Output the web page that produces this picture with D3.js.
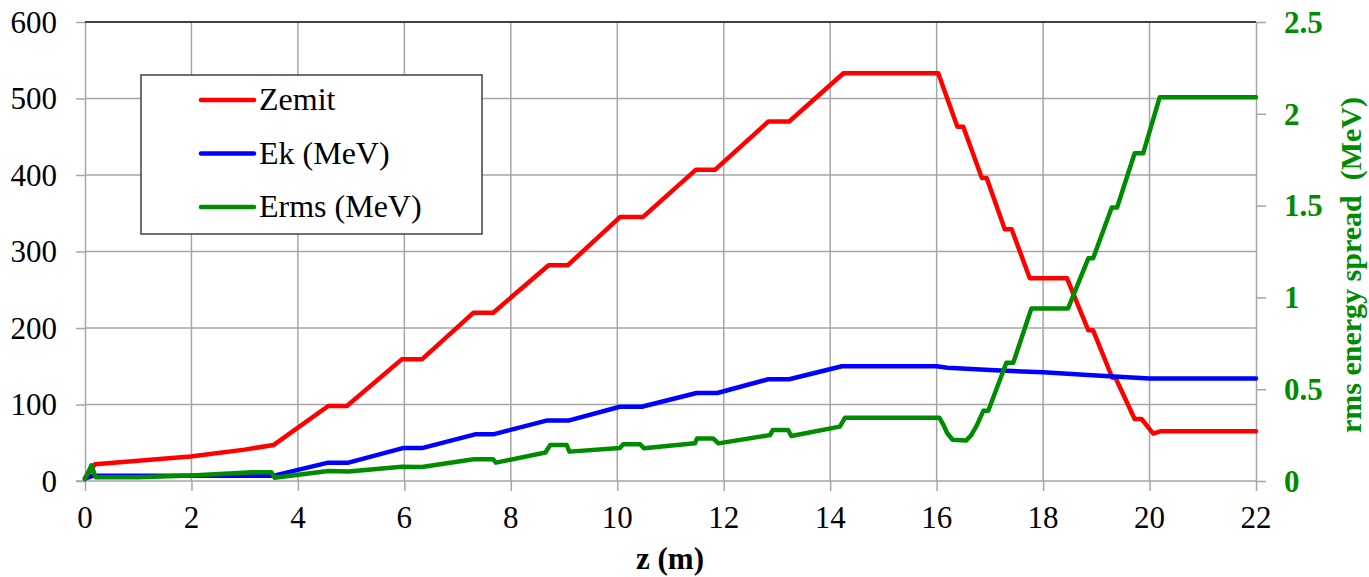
<!DOCTYPE html>
<html><head><meta charset="utf-8">
<script src="https://cdn.jsdelivr.net/npm/d3@7"></script>
<style>
html,body{margin:0;padding:0;background:#fff;}
</style></head>
<body>
<svg id="chart" width="1369" height="577"></svg>
<script>
// ---- data ----
const xTicks = [0,2,4,6,8,10,12,14,16,18,20,22];
const leftTicks = [0,100,200,300,400,500,600];
const rightTicks = [0,0.5,1,1.5,2,2.5];
const rightTickLabels = ["0","0.5","1","1.5","2","2.5"];
const seriesNames = ["Zemit","Ek (MeV)","Erms (MeV)"];
const seriesColors = ["#ff0000","#0000ff","#008c00"];
const xTitle = "z (m)";
const rightTitle = "rms energy spread  (MeV)";

const zemit = [[0,4],[0.19,22],[1.98,32],[3.0,41],[3.54,47],[4.57,98],[4.92,98],[5.95,159],[6.33,159],[7.30,220],[7.67,220],[8.71,282],[9.07,282],[10.05,345],[10.48,345],[11.48,407],[11.84,407],[12.84,470],[13.23,470],[14.25,533],[16.03,533],[16.39,463],[16.50,463],[16.85,396],[16.94,396],[17.28,329],[17.41,329],[17.75,265],[18.45,265],[18.85,197],[18.94,197],[19.30,135],[19.36,135],[19.72,81],[19.85,81],[20.07,62],[20.2,65],[22,65]];
const ek = [[0,3],[0.15,7],[3.55,7],[4.57,24],[4.95,24],[5.97,43],[6.33,43],[7.33,61],[7.67,61],[8.67,79],[9.08,79],[10.05,97],[10.46,97],[11.49,115],[11.88,115],[12.84,133],[13.23,133],[14.22,150],[16.0,150],[16.2,148],[17,145],[18,142],[19,138],[20,134],[22,134]];
const erms = [[0,0.01],[0.12,0.085],[0.2,0.02],[1.0,0.02],[2.0,0.03],[3.15,0.048],[3.5,0.048],[3.56,0.018],[4.57,0.055],[4.95,0.052],[5.95,0.078],[6.33,0.076],[7.3,0.118],[7.67,0.118],[7.72,0.1],[8.65,0.155],[8.74,0.196],[9.05,0.196],[9.1,0.16],[10.05,0.18],[10.11,0.2],[10.43,0.2],[10.5,0.178],[11.46,0.205],[11.5,0.232],[11.8,0.232],[11.9,0.205],[12.87,0.25],[12.92,0.278],[13.21,0.278],[13.27,0.245],[14.18,0.296],[14.28,0.345],[16.05,0.345],[16.12,0.31],[16.2,0.26],[16.3,0.225],[16.55,0.22],[16.65,0.25],[16.75,0.3],[16.88,0.383],[16.97,0.383],[17.31,0.644],[17.44,0.644],[17.78,0.94],[18.47,0.94],[18.85,1.213],[18.94,1.213],[19.29,1.49],[19.39,1.49],[19.72,1.785],[19.88,1.785],[20.19,2.09],[22,2.09]];

// ---- layout ----
const L = 85, R = 1256, T = 22, B = 481;
const FS = 31;
const FONT = "\"Liberation Serif\"";
const svg = d3.select("#chart");
const x = d3.scaleLinear().domain([0,22]).range([L,R]);
const yL = d3.scaleLinear().domain([0,600]).range([B,T]);
const yR = d3.scaleLinear().domain([0,2.5]).range([B,T]);
const gridColor = "#a6a6a6";
const green = seriesColors[2];

function txt(parent, s, size, bold, fill){
  return parent.append("text").style("font-family",FONT).style("font-size",size+"px")
    .style("font-weight",bold?"bold":"normal").attr("fill",fill).text(s);
}

// grid
svg.append("g").selectAll("line").data(leftTicks.filter(d=>d>0 && d<600)).join("line")
  .attr("x1",L).attr("x2",R).attr("y1",d=>yL(d)).attr("y2",d=>yL(d))
  .attr("stroke",gridColor).attr("stroke-width",1.5);
svg.append("g").selectAll("line").data(xTicks.filter(d=>d>0 && d<22)).join("line")
  .attr("x1",d=>x(d)).attr("x2",d=>x(d)).attr("y1",T).attr("y2",B)
  .attr("stroke",gridColor).attr("stroke-width",1.5);

// axes (lines only; labels drawn below)
function styleAxis(g){
  g.selectAll("path.domain").attr("stroke",gridColor).attr("stroke-width",1.5);
  g.selectAll(".tick line").attr("stroke",gridColor).attr("stroke-width",1.5);
  g.selectAll(".tick text").remove();
}
const gl = svg.append("g").attr("transform",`translate(${L},0)`)
  .call(d3.axisLeft(yL).tickValues(leftTicks).tickSize(9).tickSizeOuter(0));
styleAxis(gl);
const gb = svg.append("g").attr("transform",`translate(0,${B})`)
  .call(d3.axisBottom(x).tickValues(xTicks).tickSize(10).tickSizeOuter(0));
styleAxis(gb);
gb.select("path.domain").attr("d",`M${L-9},0H${R}`);
const gr = svg.append("g").attr("transform",`translate(${R},0)`)
  .call(d3.axisRight(yR).tickValues(rightTicks).tickSize(10).tickSizeOuter(0));
styleAxis(gr);

// tick labels
const tl = svg.append("g");
leftTicks.forEach(v=>{
  txt(tl, String(v), FS, false, "#000").attr("x",L-28).attr("y",yL(v)).attr("dy","0.35em").attr("text-anchor","end");
});
xTicks.forEach(v=>{
  txt(tl, String(v), FS, false, "#000").attr("x",x(v)).attr("y",B+47).attr("text-anchor","middle");
});
rightTicks.forEach((v,i)=>{
  txt(tl, rightTickLabels[i], FS, true, green).attr("x",R+28).attr("y",yR(v)).attr("dy","0.35em").attr("text-anchor","start");
});

// top border
svg.append("line").attr("x1",L).attr("x2",R).attr("y1",T).attr("y2",T)
  .attr("stroke","#404040").attr("stroke-width",2);

// lines
const lineL = d3.line().x(d=>x(d[0])).y(d=>yL(d[1]));
const lineR = d3.line().x(d=>x(d[0])).y(d=>yR(d[1]));
[[zemit,lineL,0],[ek,lineL,1],[erms,lineR,2]].forEach(([data,gen,i])=>{
  svg.append("path").datum(data).attr("d",gen).attr("fill","none")
    .attr("stroke",seriesColors[i]).attr("stroke-width",4.5)
    .attr("stroke-linejoin","round").attr("stroke-linecap","round");
});

// legend
const lg = svg.append("g");
lg.append("rect").attr("x",141).attr("y",75).attr("width",341).attr("height",159)
  .attr("fill","#fff").attr("stroke","#404040").attr("stroke-width",1.5);
seriesNames.forEach((n,i)=>{
  const yy = 100 + i*53.5;
  lg.append("line").attr("x1",201).attr("x2",254).attr("y1",yy).attr("y2",yy)
    .attr("stroke",seriesColors[i]).attr("stroke-width",4.5).attr("stroke-linecap","round");
  txt(lg, n, 32, false, "#000").attr("x",259).attr("y",yy+10);
});

// titles
txt(svg, xTitle, FS, true, "#000").attr("x",670).attr("y",569).attr("text-anchor","middle");
txt(svg, rightTitle, 30, true, green).attr("transform","translate(1361,265) rotate(-90)")
  .attr("text-anchor","middle").style("white-space","pre");
</script>
</body></html>
